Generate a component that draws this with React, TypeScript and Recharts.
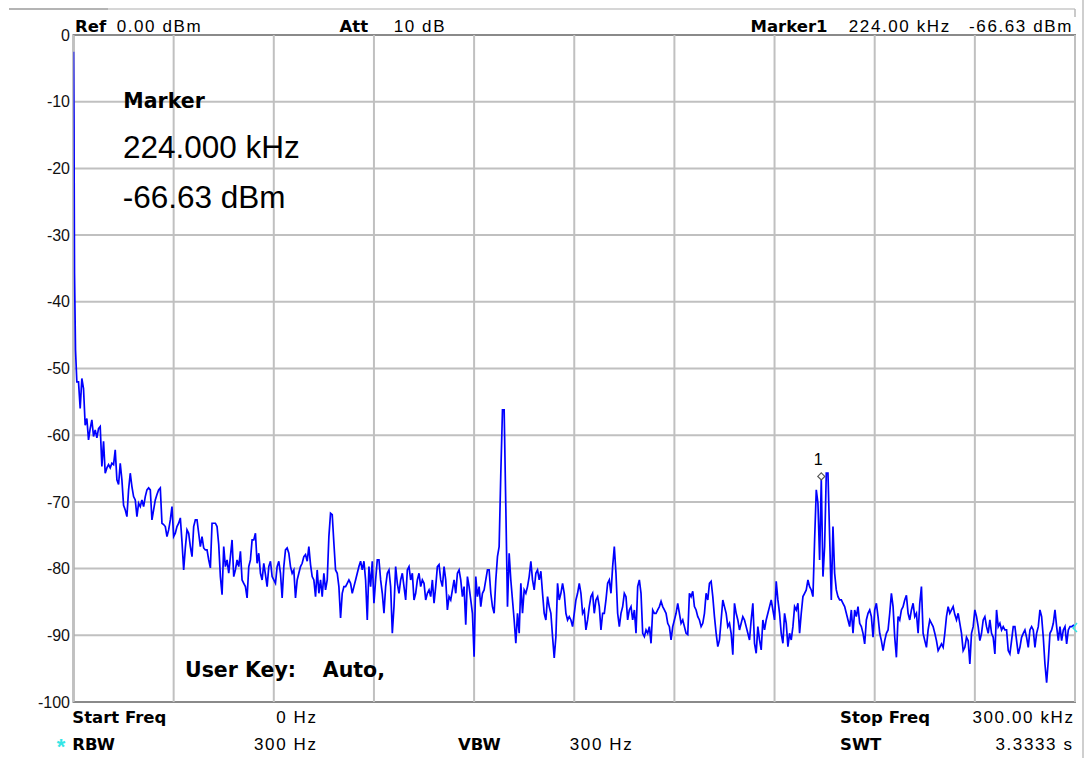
import React from 'react';
import { LineChart, Line, XAxis, YAxis, CartesianGrid, ReferenceArea, ReferenceDot, ReferenceLine } from 'recharts';

// ---- axis definitions ----
const Y_TICKS_DBM = [0, -10, -20, -30, -40, -50, -60, -70, -80, -90, -100];
const X_GRID_KHZ = [0, 30, 60, 90, 120, 150, 180, 210, 240, 270, 300];

// ---- trace: first samples near DC (explicit frequencies) ----
const START_FREQS_KHZ = [0, 0.15, 0.3, 0.6, 1.0];
const START_LEVELS_DBM = [-2.5, -14, -35.7, -47.2, -52];

// ---- trace: uniform 0.5 kHz bins ----
const STEP_KHZ = 0.5;

const SEG_A_START_KHZ = 1.5;
const SEG_A_DBM = [
  -52, -56, -51.5, -53, -58.5, -57.5, -60.7, -59, -57.7, -60.2,
  -59.2, -60.4, -59, -58.7, -64.7, -60.9, -65.7, -64.9, -64.4, -64.9,
  -64.2, -64.4, -62.2, -66.7, -67.4, -64.2, -66.7, -70.5, -71.2, -72.2,
  -68.2, -65.7, -67.7, -69.2, -69.7, -72.2, -70.2, -70.7, -69.7, -70.7,
  -69.2, -68.2, -67.9, -68.2, -72.7, -71.2, -69.7, -68.9, -68.2, -67.9,
  -73.2, -73.4, -73.7, -75.2, -74.2, -72.7, -70.7, -75.2, -74.7, -73.7,
  -73.2, -72.4, -76, -80.2, -76.9, -74.2, -74.7, -76.7, -78.2, -73.7,
  -72.7, -72.7, -74.7, -76.7, -75.2, -76.9, -77.2, -77.2, -78.7, -79.9,
  -73.2, -73.2, -73.2, -73.7, -76.4, -81.2, -83.9, -76.7, -79.7, -78.7,
  -80.7, -78.2, -75.7, -81.2, -80.2, -78.7, -79.7, -77.4, -81.7, -82.2,
  -82.7, -84.4, -79.7, -78.7, -75.7, -75.7, -74.7, -79.2, -77.7, -80.7,
  -81.7, -79.2, -80.9, -82.7, -79.7, -78.9, -81.2, -81.7, -82.2, -79.7,
  -78.9, -80.7, -84.4, -79.7, -77.2, -76.9, -77.7, -79.7, -80.7, -80.2,
  -84.4, -81.7, -80.7, -79.7, -79.2, -78.2, -77.9, -78.9, -76.7, -79.4,
  -81.2, -81.7, -84.2, -80.2, -83.7, -81.7, -84.2, -80.7, -83.2, -81.7,
  -75.2, -71.7, -71.9, -76.2, -80.2, -80.7, -82.7,
];

const SEG_B_START_KHZ = 80;
const SEG_B_DBM = [
  -87.4, -83.7, -82.7, -82.7, -82.2, -81.7, -82.2, -83.7, -82.7, -81.7,
  -80.7, -79.7, -78.9, -80.2, -78.9, -81.7, -87.7, -79.7, -82.7, -78.9,
  -85.2, -81.7, -78.7, -78.7, -81.7, -83.7, -86.7, -82.7, -80.7, -80.2,
  -82.7, -89.7, -85.7, -79.7, -82.2, -83.7, -81.7, -80.7, -82.7, -84.7,
  -80.2, -79.7, -81.7, -80.7, -84.7, -83.7, -81.7, -80.7, -82.7, -81.7,
  -82.2, -84.7, -83.7, -83.2, -84.2, -81.7, -85.2, -82.7, -79.7, -79.4,
  -81.7, -82.7, -79.7, -81.7, -86.2, -84.2, -84.7, -83.2, -81.7, -83.7,
  -80.7, -80.2, -81.7, -84.2, -82.7, -88.4, -81.2, -82.7, -84.7, -86.7,
  -93.2, -81.2, -84.2, -82.7, -85.7, -83.7, -83.2, -81.7, -80.2, -80.2,
  -83.7, -85.7, -86.7, -81.7, -78.2, -76.7, -65.7, -56.2, -56.2, -70.7,
  -85.7, -77.7, -81.7, -84.7, -87.7, -91.2, -86.7, -89.7, -82.2, -86.7,
  -83.2, -83.7, -82.7, -81.2, -78.9, -81.7, -83.2, -80.7, -80.2, -81.7,
  -80.4, -83.7, -86.7, -87.7, -84.2, -85.7, -86.7, -90.2, -93.4, -90.2,
  -82.2, -84.7, -83.7, -82.2, -83.7, -86.7, -87.7, -87.2, -87.7, -88.7,
  -86.7, -84.7, -83.7, -82.2, -83.7, -86.7, -86.2, -89.2, -87.7, -85.7,
  -84.2, -83.7, -86.7, -84.7, -84.2, -85.7, -89.2, -86.7, -86.7, -84.7,
  -82.2, -81.7, -83.7, -79.7, -76.7, -80.7, -86.7, -88.7,
];

const SEG_C_START_KHZ = 164;
const SEG_C_DBM = [
  -86.7, -85.7, -83.7, -84.2, -87.7, -86.2, -85.7, -87.7, -86.2, -89.7,
  -82.7, -81.7, -83.7, -89.7, -90.2, -89.2, -89.7, -88.7, -91.2, -86.2,
  -86.7, -86.7, -86.2, -85.7, -84.9, -85.7, -86.2, -86.7, -88.2, -88.7,
  -90.7, -88.7, -87.7, -86.7, -85.2, -86.7, -88.2, -87.7, -88.7, -89.7,
  -89.9, -83.7, -84.2, -83.4, -85.7, -86.2, -87.2, -87.7, -88.7, -88.2,
  -86.7, -83.7, -84.7, -82.2, -81.9, -84.2, -87.2, -89.7, -91.7, -90.7,
  -87.7, -84.7, -85.7, -86.7, -88.7, -88.2, -89.7, -92.9, -85.2, -86.7,
  -87.7, -89.2, -88.2, -87.2, -87.7, -88.7, -89.7, -90.7, -87.7, -85.2,
  -91.2, -92.7, -88.7, -90.7, -92.2, -87.7, -89.2, -87.7, -86.7, -85.7,
  -84.7, -86.2, -87.7, -81.9, -84.7, -86.7, -89.7, -91.2, -86.7, -88.2,
  -91.7, -89.7, -90.7, -88.7, -85.7, -86.2, -85.2, -89.7, -86.7, -84.2,
  -83.7, -83.2, -81.7, -82.7, -83.2, -84.2, -75.7, -68.2, -70.2, -78.7,
  -66.63, -81.2, -76.7, -65.7, -65.7, -75.2, -84.7, -73.7, -80.7, -83.2,
  -84.2, -84.7,
];

const SEG_D_START_KHZ = 230;
const SEG_D_DBM = [
  -84.7, -85.2, -85.7, -86.7, -87.7, -88.7, -86.2, -89.7, -86.2, -87.2,
  -85.7, -88.2, -88.7, -89.7, -91.3, -87.7, -86.7, -86.2, -87.2, -90.3,
  -86.2, -85.2, -87.2, -89.7, -90.8, -92.3, -90.8, -89.7, -89.2, -86.7,
  -83.7, -85.7, -90.3, -93.3, -87.2, -87.7, -86.2, -85.7, -84.7, -84.0,
  -86.7, -87.7, -86.2, -85.2, -87.2, -86.7, -89.7, -85.2, -82.7, -89.7,
  -90.8, -91.8, -89.2, -87.7, -88.2, -88.7, -89.7, -90.8, -92.3, -91.8,
  -91.3, -91.8, -89.7, -87.2, -85.7, -86.7, -86.2, -85.7, -86.9, -87.7,
  -86.7, -88.2, -89.7, -92.3, -91.8, -90.3, -90.8, -94.3, -89.7, -88.7,
  -86.2, -87.2, -88.7, -90.8, -89.7, -87.7, -87.2, -88.7, -89.7, -87.7,
  -89.7, -90.3, -92.8, -86.2, -88.7, -88.2, -89.2, -88.7, -89.2, -89.2,
  -92.3, -92.8, -90.8, -88.7, -88.7, -90.8, -92.8, -91.8, -90.3, -89.7,
  -89.2, -90.3, -91.8, -89.2, -88.7, -89.2, -91.8, -89.7, -88.7, -86.2,
  -87.2, -90.3, -94.3, -97.1, -93.8, -89.7, -89.2, -88.2, -86.2, -88.7,
  -90.8, -88.7, -90.8, -89.2, -88.7, -91.3, -89.2, -88.7, -88.7, -88.5,
  -88.7,
];

// ---- marker ----
const MARKER_FREQ_KHZ = 224;
const MARKER_LEVEL_DBM = -66.63;
const MARKER_LABEL = '1';

// ---- build the chart table ----
const SEGMENTS: [number, number[]][] = [
  [SEG_A_START_KHZ, SEG_A_DBM],
  [SEG_B_START_KHZ, SEG_B_DBM],
  [SEG_C_START_KHZ, SEG_C_DBM],
  [SEG_D_START_KHZ, SEG_D_DBM],
];
const traceData: { f: number; v: number }[] = START_FREQS_KHZ.map((f, i) => ({ f, v: START_LEVELS_DBM[i] }));
SEGMENTS.forEach(([start, levels]) => {
  levels.forEach((v, i) => traceData.push({ f: +(start + i * STEP_KHZ).toFixed(2), v }));
});

const REG = "'Liberation Sans', Arial, sans-serif";
const DJV = "'DejaVu Sans', Verdana, sans-serif";
const GRID = '#c0c0c0';

const MarkerShape = (props: any) => {
  const { cx, cy } = props;
  if (cx == null || cy == null) return <g />;
  const y = cy - 3;
  return (
    <g>
      <path
        d={`M ${cx} ${y - 3.5} L ${cx + 3.5} ${y} L ${cx} ${y + 3.5} L ${cx - 3.5} ${y} Z`}
        fill="#ffffff"
        stroke="#555555"
        strokeWidth={1.2}
      />
      <text x={cx - 3} y={cy - 14} textAnchor="middle" fontFamily={REG} fontSize={16} fill="#000">
        {MARKER_LABEL}
      </text>
    </g>
  );
};

const hdr = { fontFamily: REG, fontSize: 17, letterSpacing: 1.6, fill: '#000' } as const;
const hdrB = { fontFamily: DJV, fontSize: 16.5, fontWeight: 700, fill: '#000' } as const;

export default function App() {
  return (
    <div style={{ position: 'absolute', left: 0, top: 0, width: 1091, height: 758, background: '#ffffff' }}>
      <LineChart
        width={1091}
        height={758}
        data={traceData}
        margin={{ top: 35, right: 16, bottom: 56, left: 0 }}
      >
        <CartesianGrid stroke={GRID} strokeWidth={2} vertical={false} horizontal />
        <XAxis
          dataKey="f"
          type="number"
          domain={[0, 300]}
          ticks={X_GRID_KHZ}
          tick={false}
          axisLine={false}
          tickLine={false}
          height={0}
          allowDataOverflow
        />
        <YAxis
          type="number"
          domain={[-100, 0]}
          ticks={Y_TICKS_DBM}
          interval={0}
          width={73.5}
          axisLine={false}
          tickLine={false}
          tickSize={0}
          tickMargin={3.5}
          tick={{ fontFamily: REG, fontSize: 16, fill: '#111' }}
          allowDataOverflow
        />
        {X_GRID_KHZ.map((x) => (
          <ReferenceLine key={x} x={x} stroke={GRID} strokeWidth={2} />
        ))}
        <ReferenceArea
          x1={0}
          x2={300}
          y1={-100}
          y2={0}
          fill="none"
          fillOpacity={0}
          stroke="#8a8a8a"
          strokeWidth={2}
        />
        <Line
          type="linear"
          dataKey="v"
          stroke="#0000ff"
          strokeWidth={1.7}
          strokeLinejoin="miter"
          dot={false}
          activeDot={false}
          isAnimationActive={false}
        />
        <ReferenceDot x={MARKER_FREQ_KHZ} y={MARKER_LEVEL_DBM} shape={MarkerShape} />
      </LineChart>

      <svg
        width={1091}
        height={758}
        style={{ position: 'absolute', left: 0, top: 0, pointerEvents: 'none' }}
      >
        {/* screenshot frame remnants */}
        <line x1={9} y1={9} x2={1075} y2={9} stroke="#d6d6d6" strokeWidth={2} />
        <line x1={9} y1={9} x2={108} y2={9} stroke="#b4b4b4" strokeWidth={2} />
        <line x1={1075} y1={9} x2={1075} y2={17} stroke="#b8b8b8" strokeWidth={1.5} />
        <line x1={1083} y1={0} x2={1083} y2={758} stroke="#cfcfcf" strokeWidth={2} />

        {/* header */}
        <text x={75} y={31.7} style={hdrB}>Ref</text>
        <text x={116.7} y={31.7} style={hdr}>0.00 dBm</text>
        <text x={339.6} y={31.7} style={hdrB}>Att</text>
        <text x={393.7} y={31.7} style={hdr}>10 dB</text>
        <text x={750.5} y={31.7} style={hdrB}>Marker1</text>
        <text x={848.8} y={31.7} style={hdr}>224.00 kHz</text>
        <text x={1073} y={31.7} textAnchor="end" style={hdr}>-66.63 dBm</text>

        {/* marker info block */}
        <text x={123.3} y={108.3} fontFamily={DJV} fontSize={20.5} fontWeight={700} fill="#000">Marker</text>
        <text x={123} y={158.3} fontFamily={REG} fontSize={31.5} fill="#000">224.000 kHz</text>
        <text x={122.7} y={208.3} fontFamily={REG} fontSize={31.5} fill="#000">-66.63 dBm</text>

        {/* user key */}
        <text x={185} y={677} fontFamily={DJV} fontSize={20.5} fontWeight={700} fill="#000">User Key:</text>
        <text x={322.8} y={677} fontFamily={DJV} fontSize={20.5} fontWeight={700} fill="#000">Auto,</text>

        {/* footer */}
        <text x={72.3} y={723.3} style={hdrB}>Start Freq</text>
        <text x={317.5} y={723.3} textAnchor="end" style={hdr}>0 Hz</text>
        <text x={840} y={723.3} style={hdrB}>Stop Freq</text>
        <text x={1074.5} y={723.3} textAnchor="end" style={hdr}>300.00 kHz</text>

        <text x={61} y={754} textAnchor="middle" fontFamily={REG} fontSize={22} fontWeight={700} fill="#33e6e6">*</text>
        <text x={72.3} y={749.5} style={hdrB}>RBW</text>
        <text x={317.5} y={749.5} textAnchor="end" style={hdr}>300 Hz</text>
        <text x={458} y={749.5} style={hdrB}>VBW</text>
        <text x={569.8} y={749.5} style={hdr}>300 Hz</text>
        <text x={840} y={749.5} style={hdrB}>SWT</text>
        <text x={1073.5} y={749.5} textAnchor="end" style={hdr}>3.3333 s</text>

        {/* trace end indicator */}
        <polyline points="1077,623 1073,628 1077,632" fill="none" stroke="#33e6e6" strokeWidth={1.5} />
      </svg>
    </div>
  );
}
